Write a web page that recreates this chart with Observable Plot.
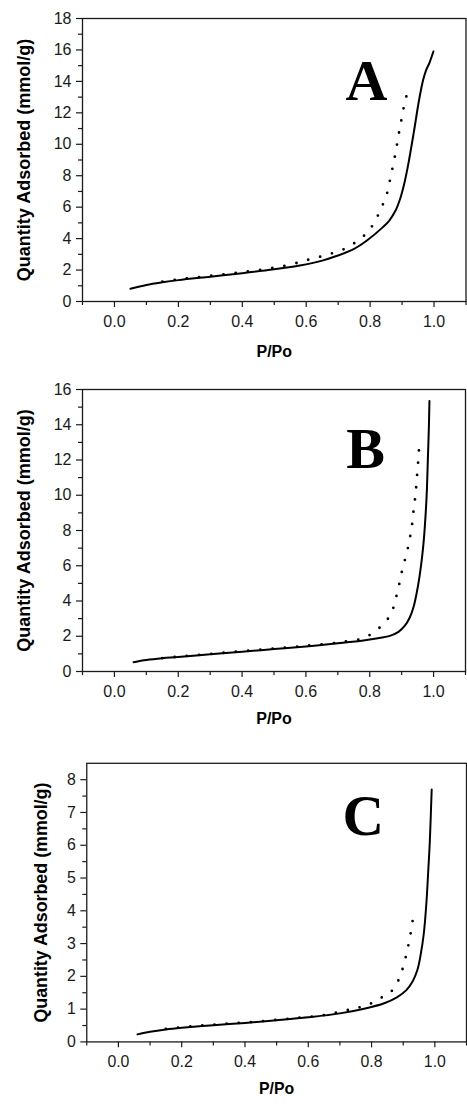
<!DOCTYPE html>
<html><head><meta charset="utf-8">
<script src="https://cdn.jsdelivr.net/npm/d3@7"></script>
<script src="https://cdn.jsdelivr.net/npm/@observablehq/plot@0.6"></script>
<style>
html,body{margin:0;padding:0;background:#fff;overflow:hidden;width:467px;height:1109px;}
#wrap{position:relative;width:467px;height:1109px;overflow:hidden;background:#fff;}
.panel{position:absolute;left:0;}
</style></head><body><div id="wrap"></div>
<script>
// ---- shared tick labels / titles ----
const xMajorTicks = [0, 0.2, 0.4, 0.6, 0.8, 1.0];
const xMinorTicks = [-0.1, 0.1, 0.3, 0.5, 0.7, 0.9, 1.1];
const xTitle = "P/Po";
const yTitle = "Quantity Adsorbed (mmol/g)";
const panelLetters = ["A", "B", "C"];

// ---- Panel A ----
const aYMajor = [0, 2, 4, 6, 8, 10, 12, 14, 16, 18];
const aYMinor = [1, 3, 5, 7, 9, 11, 13, 15, 17];
const aAdsP = [0.05, 0.1, 0.15, 0.2, 0.3, 0.4, 0.5, 0.58, 0.65, 0.69, 0.75, 0.79, 0.84, 0.86, 0.88, 0.895, 0.908, 0.92, 0.937, 0.953, 0.966, 0.975, 0.986, 0.998];
const aAdsQ = [0.81, 1.05, 1.22, 1.36, 1.58, 1.8, 2.05, 2.29, 2.6, 2.86, 3.35, 3.88, 4.73, 5.15, 5.8, 6.6, 7.6, 8.8, 10.8, 12.8, 14.1, 14.7, 15.2, 15.9];
const aDesP = [0.15, 0.2, 0.3, 0.4, 0.5, 0.56, 0.605, 0.645, 0.681, 0.72, 0.758, 0.794, 0.818, 0.836, 0.851, 0.86, 0.868, 0.876, 0.883, 0.889, 0.896, 0.903, 0.912, 0.918];
const aDesQ = [1.27, 1.4, 1.63, 1.87, 2.15, 2.4, 2.65, 2.86, 3.07, 3.35, 3.82, 4.45, 5.22, 6.0, 6.74, 7.53, 8.29, 9.08, 9.86, 10.6, 11.34, 12.15, 12.9, 13.68];

// ---- Panel B ----
const bYMajor = [0, 2, 4, 6, 8, 10, 12, 14, 16];
const bYMinor = [1, 3, 5, 7, 9, 11, 13, 15];
const bAdsP = [0.06, 0.1, 0.15, 0.2, 0.3, 0.4, 0.5, 0.6, 0.7, 0.78, 0.83, 0.863, 0.89, 0.91, 0.925, 0.937, 0.947, 0.956, 0.964, 0.97, 0.975, 0.979, 0.982, 0.985, 0.987];
const bAdsQ = [0.53, 0.65, 0.75, 0.82, 0.98, 1.12, 1.27, 1.42, 1.6, 1.76, 1.9, 2.02, 2.25, 2.6, 3.05, 3.65, 4.45, 5.4, 6.5, 7.6, 8.9, 10.3, 12.0, 13.7, 15.35];
const bDesP = [0.15, 0.2, 0.3, 0.4, 0.5, 0.6, 0.7, 0.728, 0.77, 0.806, 0.84, 0.867, 0.879, 0.889, 0.897, 0.905, 0.916, 0.924, 0.931, 0.935, 0.94, 0.944, 0.947, 0.95, 0.953, 0.955];
const bDesQ = [0.76, 0.84, 1.0, 1.15, 1.3, 1.46, 1.64, 1.72, 1.84, 2.14, 2.65, 3.27, 3.97, 4.69, 5.35, 6.01, 6.71, 7.43, 8.09, 8.79, 9.51, 10.17, 10.83, 11.53, 12.21, 12.91];

// ---- Panel C ----
const cYMajor = [0, 1, 2, 3, 4, 5, 6, 7, 8];
const cYMinor = [0.5, 1.5, 2.5, 3.5, 4.5, 5.5, 6.5, 7.5];
const cAdsP = [0.06, 0.1, 0.15, 0.2, 0.3, 0.4, 0.5, 0.6, 0.7, 0.78, 0.84, 0.88, 0.91, 0.93, 0.945, 0.955, 0.965, 0.973, 0.979, 0.984, 0.99];
const cAdsQ = [0.23, 0.31, 0.38, 0.43, 0.51, 0.58, 0.66, 0.75, 0.87, 1.02, 1.18, 1.36, 1.58, 1.85, 2.2, 2.65, 3.3, 4.2, 5.2, 6.1, 7.7];
const cDesP = [0.15, 0.25, 0.35, 0.45, 0.55, 0.65, 0.708, 0.746, 0.786, 0.823, 0.861, 0.885, 0.899, 0.909, 0.917, 0.924, 0.93];
const cDesQ = [0.4, 0.49, 0.56, 0.63, 0.72, 0.82, 0.94, 1.02, 1.12, 1.31, 1.53, 1.88, 2.26, 2.63, 2.98, 3.34, 3.71];

const toRows = (P, Q) => P.map((p, i) => ({p, q: Q[i]}));

const panels = [
  {top: 0, height: 365, width: 467, mL: 82, mR: 1.5, mT: 18, mB: 64,
   yDomain: [0, 18], yMajor: aYMajor, yMinor: aYMinor,
   ads: toRows(aAdsP, aAdsQ), des: toRows(aDesP, aDesQ), letter: panelLetters[0],
   letterX: 366, letterBase: 99, yTitleX: 24, xTitleBase: 356.5},
  {top: 365, height: 375, width: 467, mL: 82, mR: 2, mT: 24, mB: 69,
   yDomain: [0, 16], yMajor: bYMajor, yMinor: bYMinor,
   ads: toRows(bAdsP, bAdsQ), des: toRows(bDesP, bDesQ), letter: panelLetters[1],
   letterX: 365, letterBase: 467 - 365, yTitleX: 24, xTitleBase: 723 - 365},
  {top: 740, height: 369, width: 471, mL: 87, mR: 1, mT: 23, mB: 65,
   yDomain: [0, 8.5], yMajor: cYMajor, yMinor: cYMinor,
   ads: toRows(cAdsP, cAdsQ), des: toRows(cDesP, cDesQ), letter: panelLetters[2],
   letterX: 366, letterBase: 835 - 740, yTitleX: 41, xTitleBase: 1097 - 740}
];

const wrap = document.getElementById("wrap");
const ink = "#1a1a1a";

for (const c of panels) {
  const frameBottom = c.height - c.mB;
  const plot = Plot.plot({
    width: c.width, height: c.height,
    marginLeft: c.mL, marginRight: c.mR, marginTop: c.mT, marginBottom: c.mB,
    x: {domain: [-0.1, 1.1]},
    y: {domain: c.yDomain},
    style: {fontFamily: "'Liberation Sans', Arial, sans-serif", color: ink, background: "transparent", overflow: "visible"},
    marks: [
      Plot.axisX(xMajorTicks, {tickSize: 6, tickPadding: 8, fontSize: 16, tickFormat: d3.format(".1f"), label: null, strokeWidth: 1.2}),
      Plot.axisX(xMinorTicks, {tickSize: 4, tickFormat: () => "", label: null, strokeWidth: 1.2}),
      Plot.axisY(c.yMajor, {tickSize: 6, tickPadding: 5, fontSize: 16, tickFormat: d3.format("d"), label: null, strokeWidth: 1.2}),
      Plot.axisY(c.yMinor, {tickSize: 4, tickFormat: () => "", label: null, strokeWidth: 1.2}),
      Plot.frame({stroke: ink, strokeWidth: 1.3}),
      Plot.line(c.des, {x: "p", y: "q", curve: "catmull-rom", stroke: "#000", strokeWidth: 2.8,
        strokeDasharray: "0 12.3", strokeLinecap: "round"}),
      Plot.line(c.ads, {x: "p", y: "q", curve: "catmull-rom", stroke: "#000", strokeWidth: 2}),
      Plot.text([c.letter], {text: d => d, frameAnchor: "top-left", dx: c.letterX - c.mL, dy: c.letterBase - c.mT,
        lineAnchor: "bottom", textAnchor: "middle", fontFamily: "'Liberation Serif', 'Times New Roman', serif",
        fontWeight: "bold", fontSize: 58, fill: "#000"}),
      Plot.text([yTitle], {text: d => d, frameAnchor: "left", dx: c.yTitleX - c.mL, rotate: -90,
        textAnchor: "middle", lineAnchor: "middle", fontWeight: "bold", fontSize: 18, fill: "#000"}),
      Plot.text([xTitle], {text: d => d, frameAnchor: "bottom", dy: c.xTitleBase - frameBottom,
        textAnchor: "middle", lineAnchor: "bottom", fontWeight: "bold", fontSize: 16, fill: "#000"})
    ]
  });
  const holder = document.createElement("div");
  holder.className = "panel";
  holder.style.top = c.top + "px";
  holder.appendChild(plot);
  wrap.appendChild(holder);
}
</script></body></html>
